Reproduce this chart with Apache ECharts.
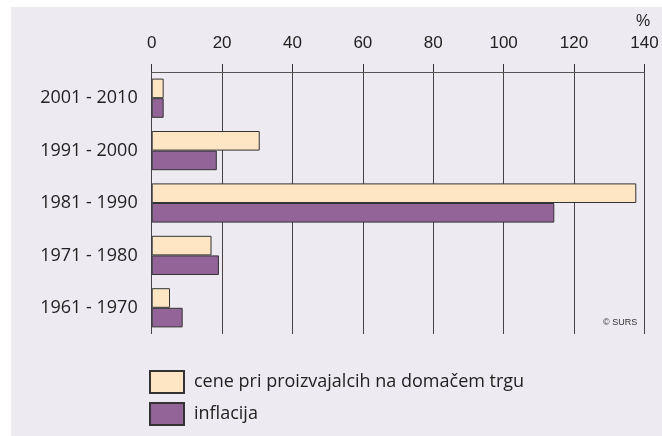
<!DOCTYPE html>
<html>
<head>
<meta charset="utf-8">
<script src="https://cdn.jsdelivr.net/npm/echarts@6/dist/echarts.min.js"></script>
<style>
	html, body { margin: 0; padding: 0; background: #fff; }
	#panel { position: absolute; left: 11px; top: 7px; width: 651px; height: 429px; background: #eeeaf1; }
	#chart { position: absolute; left: 0; top: 0; width: 662px; height: 436px; }
</style>
</head>
<body>
<div id="panel"></div>
<div id="chart"></div>
<script>
	// obdobja (spodaj -> zgoraj)
	var periods = ['1961 - 1970', '1971 - 1980', '1981 - 1990', '1991 - 2000', '2001 - 2010'];
	var producerPrices = [5.2, 17.0, 137.7, 30.7, 3.4];
	var inflation = [8.8, 19.1, 114.4, 18.5, 3.4];
	var xTicks = [0, 140, 20];
	var seriesNames = ['cene pri proizvajalcih na domačem trgu', 'inflacija'];

	var textColor = '#222';
	var numFont = 'Arial, "Liberation Sans", sans-serif';
	var chart = echarts.init(document.getElementById('chart'));

	//legenda - vsak element posebej
	function legendItem(name, top) {
		return {
			data: [name],
			orient: 'vertical',
			left: 149,
			top: top,
			padding: 0,
			itemWidth: 34,
			itemHeight: 22,
			icon: 'rect',
			textStyle: { fontFamily: 'Open Sans', fontSize: 18, color: textColor, padding: [0, 0, 0, 5] }
		};
	}

	chart.setOption({
		backgroundColor: 'transparent',
		animation: false,
		grid: { left: 151.7, right: 17.6, top: 72, bottom: 102 },
		legend: [legendItem(seriesNames[0], 370), legendItem(seriesNames[1], 402)],
		xAxis: {
			type: 'value',
			position: 'top',
			min: xTicks[0],
			max: xTicks[1],
			interval: xTicks[2],
			axisLine: { show: true, lineStyle: { color: '#555', width: 1 } },
			axisTick: { show: true, length: 8, lineStyle: { color: '#333' } },
			axisLabel: { margin: 20, fontFamily: numFont, fontSize: 17, color: textColor },
			splitLine: { show: true, lineStyle: { color: '#444', width: 1 } }
		},
		yAxis: {
			type: 'category',
			data: periods,
			axisLine: { show: false },
			axisTick: { show: false },
			axisLabel: { margin: 14, fontFamily: 'Open Sans', fontSize: 18, color: textColor }
		},
		graphic: [
			{ type: 'text', left: 636, top: 14, style: { text: '%', font: '16px ' + numFont, fill: textColor } },
			{ type: 'text', left: 603, top: 318, style: { text: '© SURS', font: '9px ' + numFont, fill: '#333' } }
		],
		series: [
			{
				name: seriesNames[0],
				type: 'bar',
				data: producerPrices,
				barWidth: 19.6,
				barGap: '0%',
				itemStyle: { color: '#fee5c3', borderColor: '#333', borderWidth: 1 }
			},
			{
				name: seriesNames[1],
				type: 'bar',
				data: inflation,
				barWidth: 19.6,
				barGap: '0%',
				itemStyle: { color: '#926498', borderColor: '#333', borderWidth: 1 }
			}
		]
	});
</script>
</body>
</html>
